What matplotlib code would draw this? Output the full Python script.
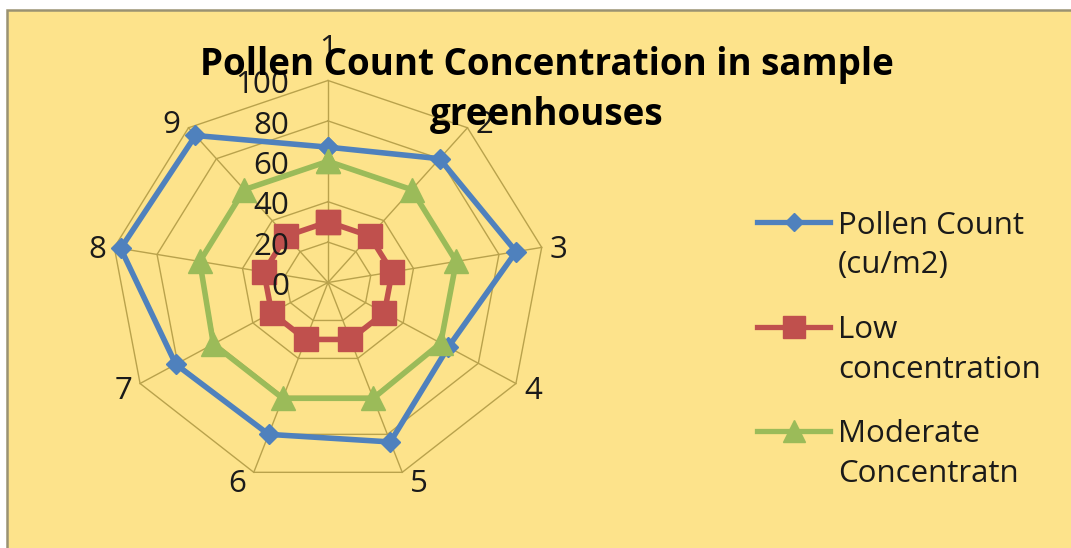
import numpy as np
import matplotlib
matplotlib.use("Agg")
import matplotlib.pyplot as plt
import matplotlib.transforms as mtransforms
from matplotlib.lines import Line2D
from matplotlib.patches import Rectangle

# ---------------- data ----------------
categories = ["1", "2", "3", "4", "5", "6", "7", "8", "9"]
pollen_count = [67, 80, 88, 64, 84, 80, 81, 97, 95]
low_concentration = [30, 30, 30, 30, 30, 30, 30, 30, 30]
moderate_concentration = [60, 60, 60, 60, 61, 61, 61, 60, 60]
radial_ticks = [0, 20, 40, 60, 80, 100]
series_labels = ["Pollen Count\n(cu/m2)", "Low\nconcentration", "Moderate\nConcentratn"]
title_lines = ["Pollen Count Concentration in sample", "greenhouses"]

# ---------------- styles ----------------
FONT = ["Open Sans", "DejaVu Sans"]
plt.rcParams["font.family"] = FONT
BG = "#FDE38B"
GRID = "#B9A24C"
BLUE = "#4F81BD"
RED = "#C0504D"
GREEN = "#9BBB59"
TXT = "#1a1a1a"
FS = 22.5
HALF_CAP = 11.2

W, H = 1071, 548
fig = plt.figure(figsize=(W / 100, H / 100), dpi=100)
fig.patch.set_facecolor("white")

def fx(x):
    return x / W

def fy(y_down):
    return 1 - y_down / H

# yellow panel with grey border (top & left visible)
fig.add_artist(Rectangle((fx(7), -0.1), 1.2, fy(10) + 0.1, transform=fig.transFigure,
                         facecolor=BG, edgecolor="#9A9272", lw=1.8, zorder=-10))

# radar axes (slightly stretched horizontally like the reference)
cx, cy = 328, 282.5
Rh, Rv = 217, 202
ax = fig.add_axes([fx(cx - Rh), fy(cy + Rv), 2 * Rh / W, 2 * Rv / H], projection="polar")
ax.set_aspect("auto")
ax.set_theta_zero_location("N")
ax.set_theta_direction(-1)
ax.set_ylim(0, 100)
ax.grid(False)
ax.spines["polar"].set_visible(False)
ax.set_xticks([])
ax.set_yticks([])
ax.patch.set_alpha(0)

n = len(categories)
theta = np.arange(n) * 2 * np.pi / n
theta_c = np.r_[theta, theta[0]]

for v in radial_ticks[1:]:
    ax.plot(theta_c, [v] * (n + 1), color=GRID, lw=1.0, zorder=1, clip_on=False)
for t in theta:
    ax.plot([t, t], [0, radial_ticks[-1]], color=GRID, lw=1.0, zorder=1, clip_on=False)

series = [
    (pollen_count, BLUE, "D", 10.5, 9),
    (low_concentration, RED, "s", 17.5, 15.5),
    (moderate_concentration, GREEN, "^", 17, 15.5),
]
for vals, col, mk, ms, _ in series:
    ax.plot(theta_c, list(vals) + [vals[0]], color=col, lw=4.0, marker=mk, ms=ms,
            mec=col, mew=1, zorder=3, clip_on=False)

# radial tick labels
for v in radial_ticks:
    tr = mtransforms.offset_copy(ax.transData, fig=fig, x=-39, y=-(1.5 + HALF_CAP), units="dots")
    ax.text(0, v, str(v), transform=tr, ha="right", va="baseline", fontsize=FS,
            color=TXT, clip_on=False)

# category labels
for t, lab in zip(theta, categories):
    ux, uy = np.sin(t), np.cos(t)
    if abs(ux) < 0.05:
        dx, dyc = 0.0, 35.0 * np.sign(uy)
    else:
        dx, dyc = 17.0 * np.sign(ux), 8.5 * uy - 0.5
    tr = mtransforms.offset_copy(ax.transData, fig=fig, x=dx, y=dyc - HALF_CAP, units="dots")
    ax.text(t, radial_ticks[-1], lab, transform=tr, ha="center", va="baseline",
            fontsize=FS, color=TXT, clip_on=False)

# title
for i, line in enumerate(title_lines):
    fig.text(fx(546.5), fy(75 + 50 * i), line, ha="center", va="baseline", fontsize=26.5,
             fontweight="bold", color="black", zorder=5)

# legend (manual)
for i, ((vals, col, mk, ms, lms), lab) in enumerate(zip(series, series_labels)):
    yc = 222.3 + 104.3 * i
    fig.add_artist(Line2D([fx(757), fx(830)], [fy(yc), fy(yc)], transform=fig.transFigure,
                          color=col, lw=3.8))
    fig.add_artist(Line2D([fx(793.5)], [fy(yc)], transform=fig.transFigure, color=col,
                          marker=mk, ms=lms, mec=col, mew=1, lw=0))
    for j, part in enumerate(lab.split("\n")):
        fig.text(fx(838), fy(yc + HALF_CAP + 40 * j), part, ha="left", va="baseline",
                 fontsize=FS, color=TXT)

fig.savefig("out.png", dpi=100, facecolor=fig.get_facecolor())
